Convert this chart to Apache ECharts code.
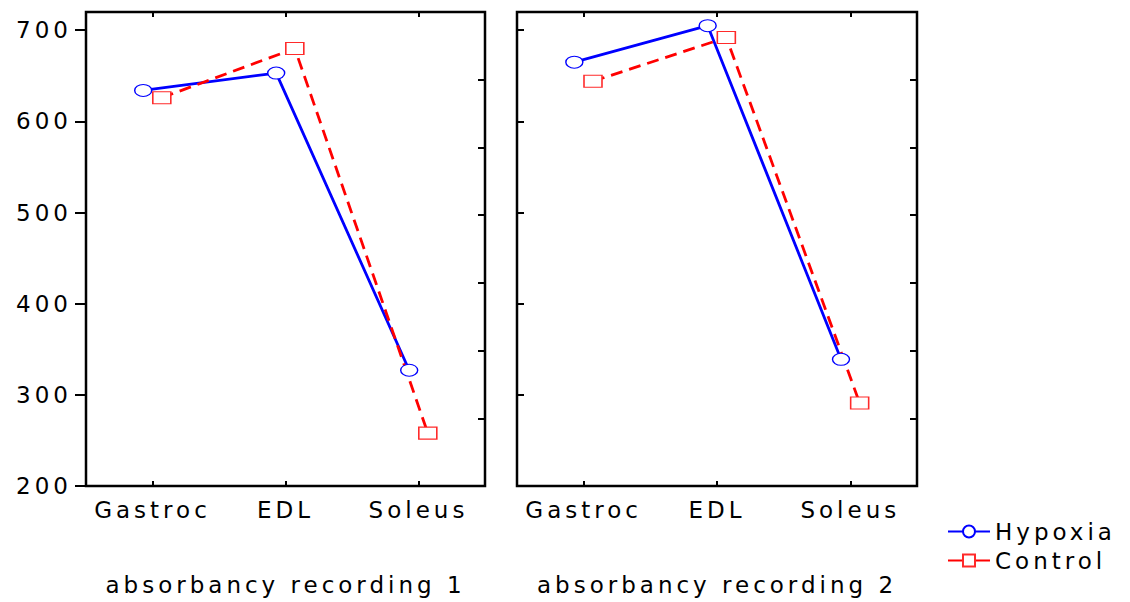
<!DOCTYPE html>
<html>
<head>
<meta charset="utf-8">
<script src="https://cdn.jsdelivr.net/npm/echarts@6/dist/echarts.min.js"></script>
<style>
  html, body { margin: 0; padding: 0; background: #fff; }
  #chart { width: 1130px; height: 602px; }
  #chart text { letter-spacing: 4px; }
</style>
</head>
<body>
<div id="chart"></div>
<script>
const muscles = ['Gastroc', 'EDL', 'Soleus'];
const panelTitles = ['absorbancy recording 1', 'absorbancy recording 2'];
const yTicks = [200, 300, 400, 500, 600, 700];
const hypoxia1 = [634, 653, 327];
const control1 = [626, 680, 258];
const hypoxia2 = [665, 705, 339];
const control2 = [644, 692, 291];

const FONT = "'DejaVu Sans', 'Liberation Sans', Arial, sans-serif";
const dodge = 0.07; // hypoxia drawn a bit left, control a bit right
const ellipse = 'path://M0,5A9,5 0 1,1 18,5A9,5 0 1,1 0,5Z';
const catIdx = muscles.map((m, i) => i);

const grids = [
  { left: 86, top: 12, width: 399, height: 474 },
  { left: 517, top: 12, width: 400, height: 474 }
];

const xAxes = [];
const yAxes = [];
grids.forEach((g, i) => {
  // bottom axis with muscle labels
  xAxes.push({
    gridIndex: i, type: 'value', min: -0.5, max: 2.5,
    axisLine: { show: false, onZero: false }, splitLine: { show: false },
    axisTick: { customValues: catIdx, inside: true, length: 5, lineStyle: { color: '#000', width: 2 } },
    axisLabel: { customValues: catIdx, formatter: v => muscles[Math.round(v)], margin: 12,
      fontSize: 23, color: '#000', fontFamily: FONT },
    name: panelTitles[i], nameLocation: 'middle', nameGap: 87,
    nameTextStyle: { fontSize: 23, color: '#000', fontFamily: FONT }
  });
  // top axis, ticks only
  xAxes.push({
    gridIndex: i, type: 'value', position: 'top', min: -0.5, max: 2.5,
    axisLine: { show: false, onZero: false }, splitLine: { show: false },
    axisTick: { customValues: catIdx, inside: true, length: 5, lineStyle: { color: '#000', width: 2 } },
    axisLabel: { show: false }
  });
  yAxes.push({
    gridIndex: i, type: 'value', min: 200, max: 720,
    axisLine: { show: false, onZero: false }, splitLine: { show: false },
    axisTick: { customValues: yTicks, inside: i === 1, length: i === 0 ? 11 : 7,
      lineStyle: { color: '#000', width: 2 } },
    axisLabel: { show: i === 0, customValues: yTicks, margin: 14, fontSize: 23, color: '#000', fontFamily: FONT }
  });
  // unlabeled right axis
  yAxes.push({
    gridIndex: i, type: 'value', position: 'right', min: 0, max: 7, interval: 1,
    axisLine: { show: false, onZero: false }, splitLine: { show: false },
    axisTick: { inside: true, length: 7, lineStyle: { color: '#000', width: 2 } },
    axisLabel: { show: false }
  });
});

function hypoxiaSeries(values, i) {
  return {
    name: 'Hypoxia', type: 'line', xAxisIndex: 2 * i, yAxisIndex: 2 * i,
    data: values.map((v, k) => [k - dodge, v]),
    symbol: ellipse, symbolSize: [17, 12],
    lineStyle: { color: '#0000ff', width: 2.8 },
    itemStyle: { color: '#fff', borderColor: '#0000ff', borderWidth: 1.2 },
    emphasis: { disabled: true }
  };
}
function controlSeries(values, i) {
  return {
    name: 'Control', type: 'line', xAxisIndex: 2 * i, yAxisIndex: 2 * i,
    data: values.map((v, k) => [k + dodge, v]),
    symbol: 'rect', symbolSize: [18, 12],
    lineStyle: { color: '#ff0000', width: 2.8, type: [12, 7] },
    itemStyle: { color: '#fff', borderColor: '#ff2a2a', borderWidth: 1.3 },
    emphasis: { disabled: true }
  };
}

const chart = echarts.init(document.getElementById('chart'), null, { renderer: 'svg' });
chart.setOption({
  animation: false,
  grid: grids.map(g => Object.assign({ show: true, borderColor: '#000', borderWidth: 2.5,
    backgroundColor: 'transparent' }, g)),
  xAxis: xAxes,
  yAxis: yAxes,
  legend: {
    orient: 'vertical', left: 942, top: 515, itemWidth: 42, itemHeight: 15, itemGap: 6,
    textStyle: { fontSize: 23, color: '#000', fontFamily: FONT },
    data: ['Hypoxia', { name: 'Control', lineStyle: { type: 'solid' } }]
  },
  series: [
    hypoxiaSeries(hypoxia1, 0), controlSeries(control1, 0),
    hypoxiaSeries(hypoxia2, 1), controlSeries(control2, 1)
  ]
});
</script>
</body>
</html>
